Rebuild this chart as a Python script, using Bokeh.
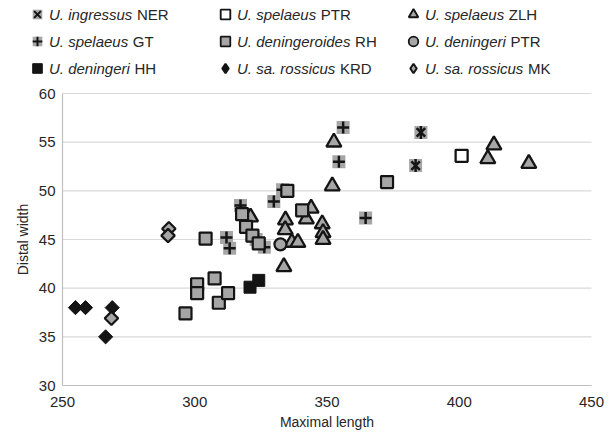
import math
from bokeh.plotting import figure
from bokeh.models import Legend, LegendItem, Label, FixedTicker, Range1d
from bokeh.embed import file_html
from bokeh.resources import INLINE

# ---------------- data ----------------
ner_x = [385.5, 383.5]
ner_y = [56.0, 52.6]

spptr_x = [400.9]
spptr_y = [53.6]

zlh_x = [321.1, 334.3, 334.2, 333.7, 336.7, 339.0, 342.2, 344.0, 348.2, 348.5, 348.5,
         352.0, 352.6, 410.8, 413.1, 426.3]
zlh_y = [47.3, 47.0, 46.0, 42.2, 44.7, 44.7, 47.1, 48.2, 46.6, 45.7, 45.0,
         50.5, 55.0, 53.3, 54.7, 52.8]

gt_x = [317.3, 312.0, 313.2, 323.2, 326.3, 329.9, 333.2, 354.5, 356.1, 364.6]
gt_y = [48.5, 45.2, 44.1, 45.0, 44.2, 48.9, 50.1, 53.0, 56.5, 47.2]

rh_x = [296.5, 300.9, 300.9, 304.1, 307.5, 309.1, 312.6, 317.9, 319.4, 321.8, 324.2,
        335.0, 340.6, 372.7]
rh_y = [37.4, 40.4, 39.5, 45.1, 41.0, 38.5, 39.5, 47.6, 46.3, 45.4, 44.6,
        50.0, 48.0, 50.9]

denptr_x = [332.4]
denptr_y = [44.5]

hh_x = [320.9, 324.2]
hh_y = [40.1, 40.8]

krd_x = [254.9, 258.7, 268.8, 266.3]
krd_y = [38.0, 38.0, 38.0, 35.0]

mk_x = [290.2, 289.9, 268.5]
mk_y = [46.1, 45.4, 36.9]

x_ticks = [250, 300, 350, 400, 450]
y_ticks = [30, 35, 40, 45, 50, 55, 60]

x_title = "Maximal length"
y_title = "Distal width"

legend_names = ["U. ingressus ", "U. spelaeus ", "U. spelaeus ",
                "U. spelaeus ", "U. deningeroides ", "U. deningeri ",
                "U. deningeri ", "U. sa. rossicus ", "U. sa. rossicus "]
legend_codes = ["NER", "PTR", "ZLH", "GT", "RH", "PTR", "HH", "KRD", "MK"]

# ---------------- layout / styles ----------------
GRAY = "#a6a6a6"
INK = "#141414"
FONT = "Liberation Sans"
TXT = "#262626"

W, H = 616, 432
AX_LEFT = 62       # pixel where the x axis starts
AX_RIGHT = 591     # pixel where the x axis ends
PLOT_TOP = 93      # pixel of the top gridline
PLOT_BOTTOM = 385  # pixel of the x axis line
FRAME_W, FRAME_H = W, H   # frame covers the whole canvas; axes sit at fixed locations

x_lo, x_hi = x_ticks[0], x_ticks[-1]
y_lo, y_hi = y_ticks[0], y_ticks[-1]
ppu_x = (AX_RIGHT - AX_LEFT) / (x_hi - x_lo)
ppu_y = (PLOT_BOTTOM - PLOT_TOP) / (y_hi - y_lo)
x_start = x_lo - AX_LEFT / ppu_x
x_end = x_hi + (W - AX_RIGHT) / ppu_x
y_start = y_lo - (H - PLOT_BOTTOM) / ppu_y
y_end = y_hi + PLOT_TOP / ppu_y

p = figure(width=W, height=H, output_backend="svg", toolbar_location=None,
           x_range=Range1d(x_start, x_end), y_range=Range1d(y_start, y_end),
           min_border=0, background_fill_color="white",
           border_fill_color="white", outline_line_color=None)
p.extra_y_ranges = {"legend": Range1d(1000, 1001)}   # legend-only copies live off-screen

p.xgrid.visible = False
p.ygrid.visible = False

# horizontal gridlines between the axis bounds
p.segment(x0=[x_lo] * len(y_ticks), x1=[x_hi] * len(y_ticks), y0=y_ticks, y1=y_ticks,
          line_color="#d9d9d9", line_width=1.2)

p.xaxis.ticker = FixedTicker(ticks=x_ticks)
p.yaxis.ticker = FixedTicker(ticks=y_ticks)
p.xaxis.bounds = (x_lo, x_hi)
p.yaxis.bounds = (y_lo, y_hi)
p.yaxis.fixed_location = x_lo
p.xaxis.fixed_location = y_lo
for ax in (p.xaxis[0], p.yaxis[0]):
    ax.axis_line_color = "#bfbfbf"
    ax.axis_line_width = 1.2
    ax.major_tick_line_color = None
    ax.minor_tick_line_color = None
    ax.major_tick_out = 0
    ax.major_tick_in = 0
    ax.minor_tick_out = 0
    ax.major_label_text_font = FONT
    ax.major_label_text_font_size = "15px"
    ax.major_label_text_color = TXT
p.xaxis.major_label_standoff = 11
p.yaxis.major_label_standoff = 7

# axis titles, centred on the axis spans
p.add_layout(Label(x=(x_lo + x_hi) / 2, y=FRAME_H - 421, x_units="data", y_units="screen",
                   text=x_title, text_font=FONT, text_font_size="14px", text_color=TXT,
                   text_align="center", text_baseline="middle"))
p.add_layout(Label(x=22, y=(y_lo + y_hi) / 2, x_units="screen", y_units="data",
                   text=y_title, angle=math.pi / 2, text_font=FONT, text_font_size="14px",
                   text_color=TXT, text_align="center", text_baseline="middle"))


def add_series(fig, k=1.0, range_name="default", legend_style=False):
    kw = dict(y_range_name=range_name)
    ner_bg = fig.scatter(ner_x, ner_y, marker="square", size=13 * k, fill_color=GRAY,
                         line_color=None, **kw)
    ner_x_r = fig.scatter(ner_x, ner_y, marker="x", size=12 * k, line_color=INK,
                          line_width=2.5 * k, **kw)
    group = [ner_bg, ner_x_r]
    if not legend_style:
        group.append(fig.scatter(ner_x, ner_y, marker="dash", size=13 * k, angle=math.pi / 2,
                                 line_color=INK, line_width=2.5 * k, **kw))
    spptr_r = fig.scatter(spptr_x, spptr_y, marker="square", size=12 * k, fill_color="white",
                          line_color=INK, line_width=2.3 * k, **kw)
    zlh_r = fig.scatter(zlh_x, zlh_y, marker="triangle", size=15 * k, fill_color=GRAY,
                        line_color=INK, line_width=2.3 * k, **kw)
    gt_bg = fig.scatter(gt_x, gt_y, marker="square", size=13 * k, fill_color=GRAY,
                        line_color=None, **kw)
    gt_c = fig.scatter(gt_x, gt_y, marker="cross", size=12 * k, line_color=INK,
                       line_width=2.5 * k, **kw)
    rh_r = fig.scatter(rh_x, rh_y, marker="square", size=12 * k, fill_color=GRAY,
                       line_color=INK, line_width=2.2 * k, **kw)
    denptr_r = fig.scatter(denptr_x, denptr_y, marker="circle", size=12 * k,
                           fill_color=GRAY, line_color=INK, line_width=2.2 * k, **kw)
    hh_r = fig.scatter(hh_x, hh_y, marker="square", size=12 * k, fill_color=INK,
                       line_color=INK, **kw)
    if legend_style:
        krd_r = fig.scatter(krd_x, krd_y, marker="diamond", size=13, fill_color=INK,
                            line_color=INK, line_width=2, **kw)
        mk_r = fig.scatter(mk_x, mk_y, marker="diamond", size=13, fill_color=GRAY,
                           line_color=INK, line_width=2.0, **kw)
    else:
        krd_r = fig.scatter(krd_x, krd_y, marker="square", size=10 * k, angle=math.pi / 4,
                            fill_color=INK, line_color=INK, line_width=1, **kw)
        mk_r = fig.scatter(mk_x, mk_y, marker="square", size=9.5 * k, angle=math.pi / 4,
                           fill_color=GRAY, line_color=INK, line_width=2.2 * k, **kw)
    return [group, [spptr_r], [zlh_r], [gt_bg, gt_c], [rh_r], [denptr_r],
            [hh_r], [krd_r], [mk_r]]


add_series(p)
groups = add_series(p, k=0.8, range_name="legend", legend_style=True)

# ---------------- legend ----------------
LFS = 15
GW = 24
STANDOFF = 0
PITCH = 188
SPACING = 3
LABEL_W = PITCH - GW - STANDOFF - SPACING
VX = 25           # legend left (frame starts at canvas x = 0)
TOP_CANVAS = 2
ROW_H = GW
LEG_H = 3 * ROW_H + 2 * SPACING
VY = FRAME_H - (TOP_CANVAS + LEG_H)

items = [LegendItem(label=n.strip(), renderers=g)
         for n, g in zip(legend_names, groups)]
legend = Legend(items=items, orientation="horizontal", ncols=3,
                location=(VX, VY), glyph_width=GW, glyph_height=GW,
                label_standoff=STANDOFF, label_width=LABEL_W, label_height=ROW_H,
                spacing=SPACING, padding=0, margin=0,
                border_line_color=None, background_fill_alpha=0,
                label_text_font=FONT, label_text_font_size=f"{LFS}px",
                label_text_font_style="italic", label_text_color=TXT)
p.add_layout(legend, "center")

AW = {'U': 722, '.': 278, ' ': 278, 'a': 556, 'c': 500, 'd': 556, 'e': 556,
      'g': 556, 'i': 222, 'k': 500, 'l': 222, 'n': 556, 'o': 556, 'p': 556,
      'r': 333, 's': 500, 'u': 556}


def text_width(s, fs):
    return sum(AW.get(c, 556) for c in s) * fs / 1000.0


for i, (n, c) in enumerate(zip(legend_names, legend_codes)):
    row, col = divmod(i, 3)
    sx = VX + col * PITCH + GW + STANDOFF + text_width(n, LFS)
    cy = TOP_CANVAS + ROW_H / 2 + row * (ROW_H + SPACING)
    p.add_layout(Label(x=sx, y=FRAME_H - cy, x_units="screen", y_units="screen", text=c,
                       text_font=FONT, text_font_size=f"{LFS}px", text_color=TXT,
                       text_baseline="middle", text_align="left"))

open("out.html", "w").write(file_html(p, INLINE))
